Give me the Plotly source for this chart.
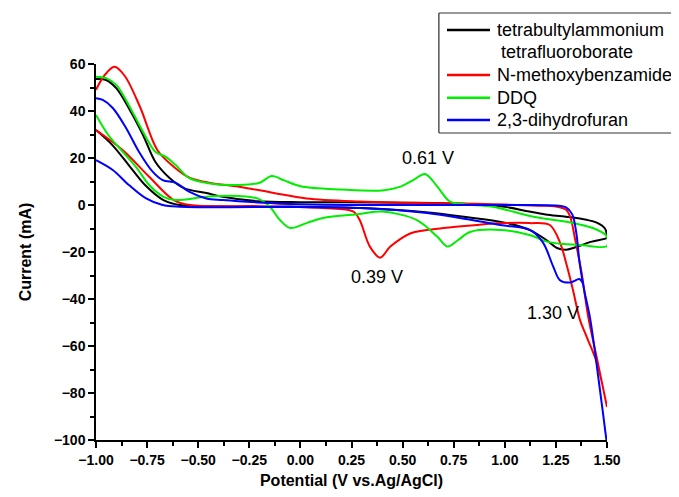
import plotly.graph_objects as go

# ---------------- data ----------------
series_names = [
    "tetrabultylammonium<br> tetrafluoroborate",
    "N-methoxybenzamide",
    "DDQ",
    "2,3-dihydrofuran",
]
series_colors = ["#000000", "#ff0000", "#00ee00", "#0000ff"]

# tetrabutylammonium tetrafluoroborate (blank)
tba_up_v = [-1.0, -0.95, -0.90, -0.84, -0.77, -0.71, -0.64, -0.57, -0.46, -0.38, -0.21, 0.0, 0.2, 0.5, 0.8, 1.0, 1.12, 1.2, 1.3, 1.4, 1.45, 1.49, 1.5]
tba_up_i = [53.6, 53.2, 49.6, 41.3, 29.8, 18.4, 11.5, 7.2, 5.1, 3.5, 1.6, 1.2, 1.2, 1.0, 0.5, -0.8, -2.8, -4.0, -5.0, -6.3, -7.5, -10.0, -13.5]
tba_dn_v = [1.5, 1.42, 1.35, 1.30, 1.255, 1.205, 1.12, 1.0, 0.8, 0.6, 0.3, 0.0, -0.3, -0.59, -0.67, -0.76, -0.84, -0.92, -1.0]
tba_dn_i = [-14.0, -15.7, -17.9, -19.0, -18.3, -15.0, -10.6, -7.5, -5.0, -3.0, -1.3, -0.7, -0.7, 0.0, 2.1, 8.5, 17.0, 25.5, 31.9]

# N-methoxybenzamide
nmb_up_v = [-1.0, -0.96, -0.91, -0.86, -0.785, -0.70, -0.62, -0.54, -0.44, -0.30, -0.13, 0.03, 0.29, 0.5, 0.78, 1.0, 1.17, 1.25, 1.30, 1.32, 1.345, 1.376, 1.407, 1.45, 1.5]
nmb_up_i = [49.0, 55.0, 58.8, 55.0, 41.8, 23.4, 16.3, 11.5, 9.4, 7.8, 5.1, 2.8, 1.5, 1.0, 0.6, 0.2, -0.3, -0.6, -2.0, -5.0, -15.0, -29.0, -47.0, -65.0, -86.0]
nmb_dn_v = [1.5, 1.45, 1.40, 1.368, 1.333, 1.304, 1.27, 1.22, 1.12, 1.0, 0.86, 0.70, 0.54, 0.44, 0.39, 0.34, 0.29, 0.26, 0.11, -0.2, -0.54, -0.62, -0.74, -0.87, -1.0]
nmb_dn_i = [-86.0, -67.0, -56.0, -49.0, -36.0, -26.0, -16.0, -8.5, -7.7, -7.7, -8.5, -9.8, -12.0, -17.7, -22.4, -17.7, -6.4, -2.8, -1.3, -0.5, 0.0, 2.1, 12.0, 23.4, 31.9]

# DDQ
ddq_up_v = [-1.0, -0.95, -0.90, -0.84, -0.77, -0.71, -0.66, -0.61, -0.545, -0.46, -0.30, -0.20, -0.14, -0.08, 0.0, 0.2, 0.4, 0.49, 0.55, 0.61, 0.67, 0.73, 0.8, 0.94, 1.14, 1.30, 1.43, 1.49, 1.5]
ddq_up_i = [54.6, 54.0, 51.0, 42.6, 31.2, 22.7, 20.6, 17.0, 11.5, 9.4, 8.5, 9.5, 12.3, 10.5, 8.0, 6.6, 6.2, 7.8, 10.5, 13.2, 7.8, 1.6, 0.3, -0.7, -5.0, -7.1, -9.8, -12.5, -13.5]
ddq_dn_v = [1.5, 1.37, 1.29, 1.21, 1.12, 0.98, 0.83, 0.77, 0.72, 0.67, 0.57, 0.40, 0.29, 0.11, 0.03, -0.05, -0.10, -0.15, -0.21, -0.30, -0.46, -0.61, -0.67, -0.74, -0.80, -0.87, -0.94, -1.0]
ddq_dn_i = [-17.5, -17.0, -16.6, -15.7, -12.8, -10.6, -11.5, -15.0, -17.7, -13.5, -6.4, -2.8, -3.8, -5.5, -7.7, -9.8, -6.4, -0.7, 2.8, 3.8, 3.5, 2.1, 3.5, 8.5, 15.7, 22.7, 29.8, 38.3]

# 2,3-dihydrofuran
dhf_up_v = [-1.0, -0.967, -0.918, -0.853, -0.79, -0.723, -0.674, -0.609, -0.545, -0.46, -0.38, -0.21, 0.0, 0.29, 0.6, 1.0, 1.25, 1.30, 1.33, 1.35, 1.365, 1.39, 1.417, 1.46, 1.5]
dhf_up_i = [45.4, 44.7, 41.3, 32.8, 22.7, 14.2, 10.6, 9.4, 5.7, 2.8, 2.1, 1.1, 0.3, 0.0, 0.0, 0.0, -0.2, -1.0, -4.0, -12.0, -24.0, -37.0, -48.0, -75.0, -102.0]
dhf_dn_v = [1.5, 1.46, 1.417, 1.39, 1.38, 1.365, 1.32, 1.27, 1.236, 1.187, 1.123, 0.977, 0.78, 0.62, 0.29, 0.0, -0.59, -0.674, -0.755, -0.839, -0.918, -1.0]
dhf_dn_i = [-102.0, -75.0, -48.0, -37.0, -33.0, -31.5, -33.0, -32.0, -26.0, -16.0, -10.6, -8.5, -5.5, -3.4, -1.3, -0.9, -0.7, 0.0, 2.8, 8.5, 14.9, 19.1]

peak_labels = ["0.61 V", "0.39 V", "1.30 V"]
peak_label_v = [0.624, 0.375, 1.236]
peak_label_i = [20.0, -30.6, -46.0]

# ---------------- figure ----------------
W, H = 671, 489                     # page body has an 8 px margin
PL, PR, PT, PB = 88, 599, 56, 432   # plot area in figure pixels


def px_x(p):
    return (p - PL) / (PR - PL)


def px_y(p):
    return (PB - p) / (PB - PT)


branches = [
    (tba_up_v, tba_up_i, tba_dn_v, tba_dn_i),
    (nmb_up_v, nmb_up_i, nmb_dn_v, nmb_dn_i),
    (ddq_up_v, ddq_up_i, ddq_dn_v, ddq_dn_i),
    (dhf_up_v, dhf_up_i, dhf_dn_v, dhf_dn_i),
]

fig = go.Figure()
for name, color, (uv, ui, dv, di) in zip(series_names, series_colors, branches):
    fig.add_trace(go.Scatter(
        x=uv + dv, y=ui + di, mode="lines", name=name, showlegend=False,
        line=dict(color=color, width=2, shape="spline", smoothing=0.95),
    ))

for t, v, i in zip(peak_labels, peak_label_v, peak_label_i):
    fig.add_annotation(x=v, y=i, text=t, showarrow=False,
                       font=dict(family="Arial", size=18, color="black"))

# hand-drawn legend box (the reference legend runs off the right edge)
fig.add_shape(type="line", xref="paper", yref="paper",
              x0=px_x(431), x1=px_x(431), y0=px_y(125), y1=px_y(5),
              line=dict(color="#333", width=1), layer="above")
fig.add_shape(type="rect", xref="paper", yref="paper",
              x0=px_x(431), x1=px_x(720), y0=px_y(125), y1=px_y(5),
              line=dict(color="#333", width=1), fillcolor="white", layer="above")
legend_row_y = [22, 67, 89.7, 112]
for name, color, ry in zip(series_names, series_colors, legend_row_y):
    fig.add_shape(type="line", xref="paper", yref="paper",
                  x0=px_x(439), x1=px_x(482), y0=px_y(ry), y1=px_y(ry),
                  line=dict(color=color, width=2.5), layer="above")
    lines = name.split("<br>")
    for k, ln in enumerate(lines):
        fig.add_annotation(xref="paper", yref="paper", x=px_x(487 + (4 if k else 0)),
                           y=px_y(ry + 21.7 * k), text=ln.strip(), showarrow=False,
                           xanchor="left", yanchor="middle",
                           font=dict(family="Arial", size=18, color="black"))

fig.update_layout(
    width=W, height=H,
    margin=dict(l=PL, r=W - PR, t=PT, b=H - PB, autoexpand=False),
    paper_bgcolor="white", plot_bgcolor="white",
    font=dict(family="Arial", color="black"),
    showlegend=False,
    xaxis=dict(
        range=[-1.0, 1.5], tick0=-1.0, dtick=0.25, tickformat=".2f",
        showgrid=False, zeroline=False, showline=True, linecolor="black", linewidth=1.5,
        ticks="outside", ticklen=6, tickwidth=1.5, tickcolor="black",
        minor=dict(dtick=0.125, ticks="outside", ticklen=4, tickwidth=1.5, tickcolor="black"),
        tickfont=dict(family="Arial", size=14, color="black", weight="bold"),
        title=dict(text="<b>Potential (V vs.Ag/AgCl)</b>", standoff=8,
                   font=dict(family="Arial", size=16, color="black")),
    ),
    yaxis=dict(
        range=[-100, 60], tick0=0, dtick=20,
        showgrid=False, zeroline=False, showline=True, linecolor="black", linewidth=1.5,
        ticks="outside", ticklen=6, tickwidth=1.5, tickcolor="black",
        minor=dict(dtick=10, ticks="outside", ticklen=4, tickwidth=1.5, tickcolor="black"),
        tickfont=dict(family="Arial", size=14, color="black", weight="bold"),
        title=dict(text="<b>Current (mA)</b>", standoff=18,
                   font=dict(family="Arial", size=16, color="black")),
    ),
)

fig.write_html("out.html")
